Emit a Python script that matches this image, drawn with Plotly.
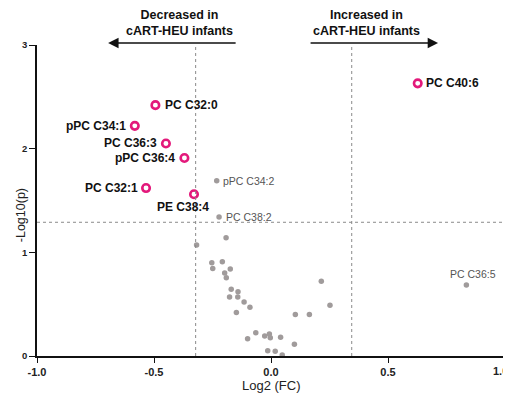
import plotly.graph_objects as go

# Significant lipids (highlighted)
sig_names = ["PC C40:6", "PC C32:0", "pPC C34:1", "PC C36:3", "pPC C36:4", "PC C32:1", "PE C38:4"]
sig_fc = [0.627, -0.494, -0.582, -0.449, -0.370, -0.534, -0.329]
sig_p = [2.63, 2.42, 2.22, 2.05, 1.91, 1.62, 1.56]

# Labelled non-significant lipids
lab_names = ["pPC C34:2", "PC C38:2", "PC C36:5"]
lab_fc = [-0.232, -0.222, 0.835]
lab_p = [1.69, 1.34, 0.684]

# Other (unlabelled) lipids
oth_fc = [-0.318, -0.192, -0.253, -0.249, -0.208, -0.174, -0.198, -0.191, -0.170, -0.141,
          -0.177, -0.142, -0.115, -0.090, -0.148, 0.104, 0.164, 0.215, 0.252, -0.065,
          -0.100, -0.027, -0.007, -0.003, 0.041, 0.100, -0.014, 0.018, 0.048]
oth_p = [1.07, 1.14, 0.90, 0.845, 0.91, 0.84, 0.80, 0.755, 0.645, 0.62,
         0.57, 0.57, 0.52, 0.47, 0.42, 0.40, 0.40, 0.72, 0.49, 0.225,
         0.167, 0.193, 0.212, 0.176, 0.18, 0.113, 0.05, 0.045, 0.01]

fc_thresholds = [-0.322, 0.345]
p_threshold = 1.29

x_ticks = [-1.0, -0.5, 0.0, 0.5, 1.0]
y_ticks = [0, 1, 2, 3]

PINK = "#E3197B"
GRAY = "#A09B9B"
FONT = "Liberation Sans, Arial, sans-serif"

fig = go.Figure()

fig.add_trace(go.Scatter(x=oth_fc + lab_fc, y=oth_p + lab_p, mode="markers",
                         marker=dict(color=GRAY, size=5.5), hoverinfo="skip", showlegend=False))
fig.add_trace(go.Scatter(x=sig_fc, y=sig_p, mode="markers",
                         marker=dict(symbol="circle-open", color=PINK, size=7.5,
                                     line=dict(color=PINK, width=2.6)),
                         showlegend=False))

# threshold lines
for xv in fc_thresholds:
    fig.add_shape(type="line", x0=xv, x1=xv, y0=0, y1=1, xref="x", yref="paper",
                  line=dict(color="#8a8a8a", width=1, dash="dot"))
fig.add_shape(type="line", x0=0, x1=1, y0=p_threshold, y1=p_threshold, xref="paper", yref="y",
              line=dict(color="#8a8a8a", width=1, dash="dot"))

# significant labels
sig_pos = {
    "PC C40:6": ("left", 6, 0),
    "PC C32:0": ("left", 8, 0),
    "pPC C34:1": ("right", -7, 0),
    "PC C36:3": ("right", -7, 0),
    "pPC C36:4": ("right", -7, 0),
    "PC C32:1": ("right", -6, 0),
    "PE C38:4": ("center", -11, -13),
}
for n, xv, yv in zip(sig_names, sig_fc, sig_p):
    anc, xs, ys = sig_pos[n]
    fig.add_annotation(x=xv, y=yv, text="<b>" + n + "</b>", showarrow=False,
                       xanchor=anc, yanchor="middle", xshift=xs, yshift=ys,
                       font=dict(family=FONT, size=12, color="#111"))

lab_pos = {
    "pPC C34:2": ("left", 4, 0),
    "PC C38:2": ("left", 5, 0),
    "PC C36:5": ("center", 7, 11),
}
for n, xv, yv in zip(lab_names, lab_fc, lab_p):
    anc, xs, ys = lab_pos[n]
    fig.add_annotation(x=xv, y=yv, text=n, showarrow=False,
                       xanchor=anc, yanchor="middle", xshift=xs, yshift=ys,
                       font=dict(family=FONT, size=10.5, color="#555"))

# direction headers and arrows
fig.add_annotation(x=-0.39, y=1.071, xref="x", yref="paper", showarrow=False,
                   text="<b>Decreased in<br>cART-HEU infants</b>", align="center",
                   xanchor="center", yanchor="middle", font=dict(family=FONT, size=12.5, color="#111"))
fig.add_annotation(x=0.41, y=1.071, xref="x", yref="paper", showarrow=False,
                   text="<b>Increased in<br>cART-HEU infants</b>", align="center",
                   xanchor="center", yanchor="middle", font=dict(family=FONT, size=12.5, color="#111"))
fig.add_annotation(x=0.152, y=1.0064, xref="paper", yref="paper", axref="pixel", ayref="pixel",
                   ax=129, ay=0, showarrow=True, arrowhead=2, arrowsize=1.3, arrowwidth=1.6,
                   arrowcolor="#111", text="")
fig.add_annotation(x=0.857, y=1.0064, xref="paper", yref="paper", axref="pixel", ayref="pixel",
                   ax=-129, ay=0, showarrow=True, arrowhead=2, arrowsize=1.3, arrowwidth=1.6,
                   arrowcolor="#111", text="")

# axis titles
fig.add_annotation(x=-0.034, y=0.453, xref="paper", yref="paper", text="-Log10(p)", textangle=-90,
                   xanchor="center", yanchor="middle",
                   showarrow=False, font=dict(family=FONT, size=12.5, color="#222"))
fig.add_annotation(x=0.5, y=-0.095, xref="paper", yref="paper", text="Log2 (FC)",
                   xanchor="center", yanchor="middle",
                   showarrow=False, font=dict(family=FONT, size=13, color="#222"))

# last x tick label drawn as an annotation kept inside the page edge
x_ticktext = [f"{v:.1f}" for v in x_ticks[:-1]] + [""]
fig.add_annotation(x=x_ticks[-1], y=0, xref="x", yref="paper", text=f"{x_ticks[-1]:.1f}",
                   showarrow=False, xanchor="right", yanchor="top", xshift=5, yshift=-7,
                   font=dict(family=FONT, size=11, color="#222", weight="bold"))

fig.update_xaxes(range=[-1, 1], tickvals=x_ticks, ticktext=x_ticktext,
                 showgrid=False, zeroline=False, showline=True, linecolor="#111", linewidth=1.5,
                 ticks="outside", ticklen=5, tickwidth=1.3, tickcolor="#111",
                 tickfont=dict(family=FONT, size=11, color="#222", weight="bold"))
fig.update_yaxes(range=[0, 3], tickvals=y_ticks, showgrid=False, zeroline=False,
                 showline=True, linecolor="#111", linewidth=1.5,
                 ticks="outside", ticklen=6, tickwidth=1.3, tickcolor="#111",
                 tickfont=dict(family=FONT, size=9.5, color="#222", weight="bold"))

# page body has an 8px margin; shrink the figure so the plot area lands where the reference has it
fig.update_layout(width=503, height=393, margin=dict(l=29, r=6, t=37, b=45),
                  plot_bgcolor="white", paper_bgcolor="white", showlegend=False)

fig.write_html("out.html")
